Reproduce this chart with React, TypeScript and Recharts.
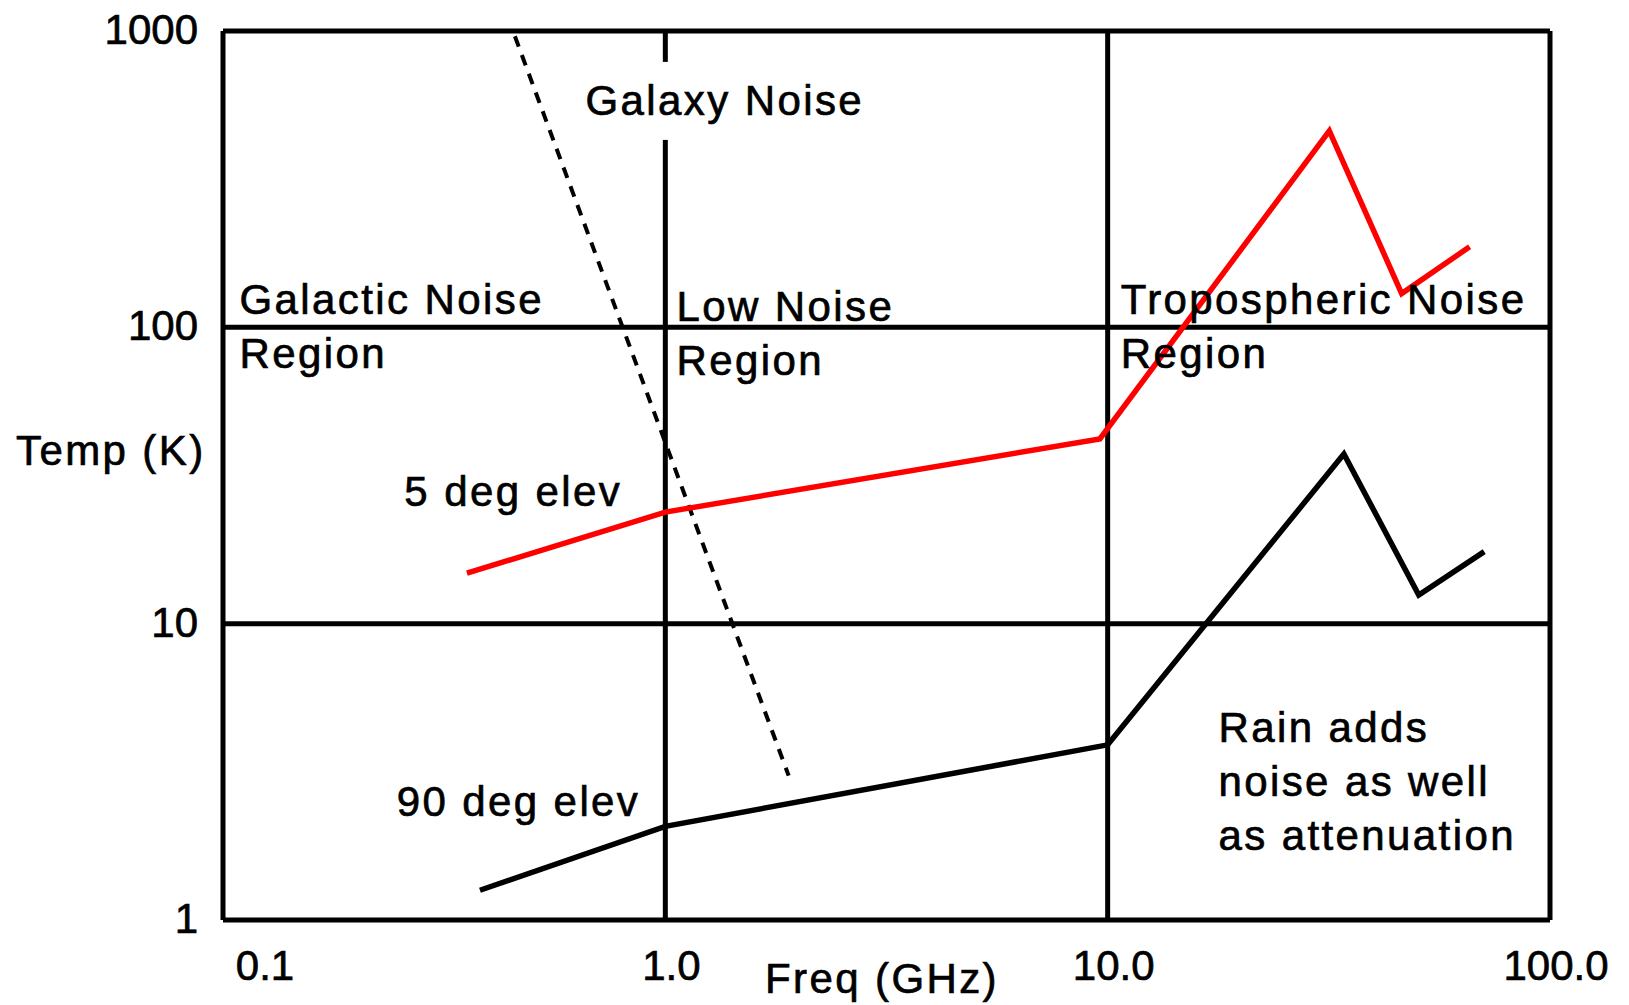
import React from 'react';
import { LineChart, Line, XAxis, YAxis, CartesianGrid, ReferenceDot } from 'recharts';

// log-log axes, decades only
const freqTicks = [0.1, 1, 10, 100];
const freqTickLabels = ['0.1', '1.0', '10.0', '100.0'];
const tempTicks = [1, 10, 100, 1000];
const tempTickLabels = ['1', '10', '100', '1000'];

// sky noise temperature at 5 deg elevation (red)
const elev5 = [
  { freq: 0.356, temp: 14.8 },
  { freq: 1.0, temp: 23.8 },
  { freq: 9.6, temp: 42 },
  { freq: 31.7, temp: 460 },
  { freq: 46.2, temp: 130 },
  { freq: 65.8, temp: 187 },
];

// sky noise temperature at 90 deg elevation (black)
const elev90 = [
  { freq: 0.381, temp: 1.26 },
  { freq: 1.0, temp: 2.07 },
  { freq: 10, temp: 3.9 },
  { freq: 34.2, temp: 37.4 },
  { freq: 50.5, temp: 12.5 },
  { freq: 71, temp: 17.5 },
];

// galactic noise (dashed)
const galaxy = [
  { freq: 0.457, temp: 960 },
  { freq: 1.9, temp: 3.07 },
];

const notes = [
  { freq: 0.66, temp: 521, lines: ['Galaxy Noise'], boxed: true },
  { freq: 0.109, temp: 111, lines: ['Galactic Noise', 'Region'] },
  { freq: 1.06, temp: 105, lines: ['Low Noise', 'Region'] },
  { freq: 10.7, temp: 111, lines: ['Tropospheric Noise', 'Region'] },
  { freq: 0.257, temp: 24.9, lines: ['5 deg elev'] },
  { freq: 0.247, temp: 2.24, lines: ['90 deg elev'] },
  { freq: 17.8, temp: 4.0, lines: ['Rain adds', 'noise as well', 'as attenuation'] },
];

const FONT = '"Liberation Sans", Arial, sans-serif';
const textStyle = {
  fontFamily: FONT,
  fontSize: 42,
  fill: '#000',
  stroke: '#000',
  strokeWidth: 0.7,
};

const XTick = (props: any) => {
  const { x, y, payload, index } = props;
  const label = freqTickLabels[freqTicks.indexOf(payload.value)];
  return (
    <text x={index === 0 ? x + 42 : x + 6} y={y + 60} textAnchor="middle" {...textStyle}>
      {label}
    </text>
  );
};

const YTick = (props: any) => {
  const { x, y, payload } = props;
  const label = tempTickLabels[tempTicks.indexOf(payload.value)];
  return (
    <text x={x - 25} y={y + 13} textAnchor="end" {...textStyle}>
      {label}
    </text>
  );
};

const noteShape = (note: (typeof notes)[number]) => (p: any) => {
  const { cx, cy } = p;
  const width = Math.max(...note.lines.map((l) => l.length)) * 25;
  return (
    <g>
      {note.boxed && <rect x={cx - 14} y={cy - 53} width={width + 20} height={78} fill="#fff" />}
      <text x={cx} y={cy} letterSpacing={2.4} {...textStyle}>
        {note.lines.map((l, i) => (
          <tspan key={l} x={cx} dy={i === 0 ? 0 : 54}>
            {l}
          </tspan>
        ))}
      </text>
    </g>
  );
};

export default function App() {
  return (
    <div style={{ position: 'absolute', left: 0, top: 0, width: 1629, height: 1005, background: '#fff' }}>
      <LineChart width={1629} height={1005} margin={{ top: 31, right: 79, bottom: 0, left: 0 }}>
        <CartesianGrid stroke="#000" strokeWidth={5} />
        <XAxis
          dataKey="freq"
          type="number"
          scale="log"
          domain={[0.1, 100]}
          ticks={freqTicks}
          allowDataOverflow
          height={85}
          tickSize={0}
          tickMargin={0}
          tickLine={false}
          axisLine={{ stroke: '#000', strokeWidth: 4 }}
          tick={<XTick />}
          interval={0}
        />
        <YAxis
          dataKey="temp"
          type="number"
          scale="log"
          domain={[1, 1000]}
          ticks={tempTicks}
          allowDataOverflow
          width={223}
          tickSize={0}
          tickMargin={0}
          tickLine={false}
          axisLine={{ stroke: '#000', strokeWidth: 4 }}
          tick={<YTick />}
          interval={0}
        />
        {notes.map((n) => (
          <ReferenceDot key={n.lines[0]} x={n.freq} y={n.temp} r={0} shape={noteShape(n)} />
        ))}
        <Line
          data={galaxy}
          dataKey="temp"
          type="linear"
          stroke="#000"
          strokeWidth={4}
          strokeDasharray="11 9"
          dot={false}
          isAnimationActive={false}
        />
        <Line
          data={elev90}
          dataKey="temp"
          type="linear"
          stroke="#000"
          strokeWidth={5.5}
          dot={false}
          isAnimationActive={false}
        />
        <Line
          data={elev5}
          dataKey="temp"
          type="linear"
          stroke="#ff0000"
          strokeWidth={5.5}
          dot={false}
          isAnimationActive={false}
        />
      </LineChart>
      <svg
        width={1629}
        height={1005}
        style={{ position: 'absolute', left: 0, top: 0, pointerEvents: 'none' }}
      >
        <text x={16} y={465} letterSpacing={2.4} {...textStyle}>
          Temp (K)
        </text>
        <text x={882} y={993} textAnchor="middle" letterSpacing={2.4} {...textStyle}>
          Freq (GHz)
        </text>
      </svg>
    </div>
  );
}
